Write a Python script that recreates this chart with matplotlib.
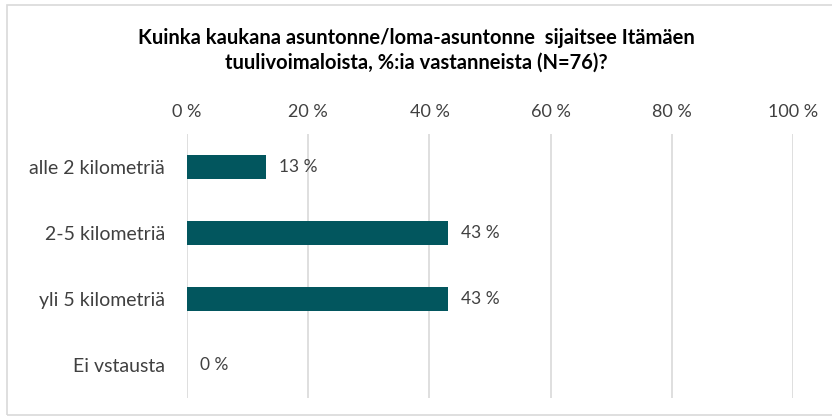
import matplotlib.pyplot as plt
from matplotlib.patches import Rectangle
from matplotlib.ticker import FuncFormatter

plt.rcParams['font.family'] = ['Lato', 'DejaVu Sans']

categories = ['alle 2 kilometriä', '2-5 kilometriä', 'yli 5 kilometriä', 'Ei vstausta']
values = [13, 43, 43, 0]
ticks = [0, 20, 40, 60, 80, 100]
title = 'Kuinka kaukana asuntonne/loma-asuntonne  sijaitsee Itämäen\ntuulivoimaloista, %:ia vastanneista (N=76)?'

bar_color = '#02565E'
grid_color = '#D9D9D9'
text_color = '#404040'

fig = plt.figure(figsize=(8.32, 4.17), dpi=100)
ax = fig.add_axes([0.2248, 0.0456, 0.7284, 0.633])

y = list(range(len(categories)))
ax.barh(y, values, height=0.35, color=bar_color, zorder=3)
for yi, v in zip(y, values):
    ax.text(v + 2.2, yi, '{0!s} %'.format(v), va='center', ha='left',
            fontsize=12.5, color=text_color)

ax.set_xlim(0, 100)
ax.set_ylim(len(categories) - 0.5, -0.5)
ax.set_yticks(y)
ax.set_yticklabels(categories, fontsize=14, color=text_color)
ax.set_xticks(ticks)
ax.xaxis.set_major_formatter(FuncFormatter(lambda x, p: '{0:d} %'.format(int(x))))
ax.xaxis.tick_top()
ax.tick_params(axis='x', labelsize=13, labelcolor=text_color, length=0, pad=10)
ax.tick_params(axis='y', length=0, pad=16)
ax.grid(axis='x', color=grid_color, linewidth=1.2, zorder=0)
for s in ax.spines.values():
    s.set_visible(False)

fig.text(0.5, 0.88, title, ha='center', va='center', fontsize=14.5,
         fontweight='bold', color='black', linespacing=1.3)

fig.patches.append(Rectangle((0.009, 0.005), 0.995, 0.982, transform=fig.transFigure,
                             fill=False, edgecolor=grid_color, linewidth=1.2))

fig.savefig('out.png', dpi=100)
